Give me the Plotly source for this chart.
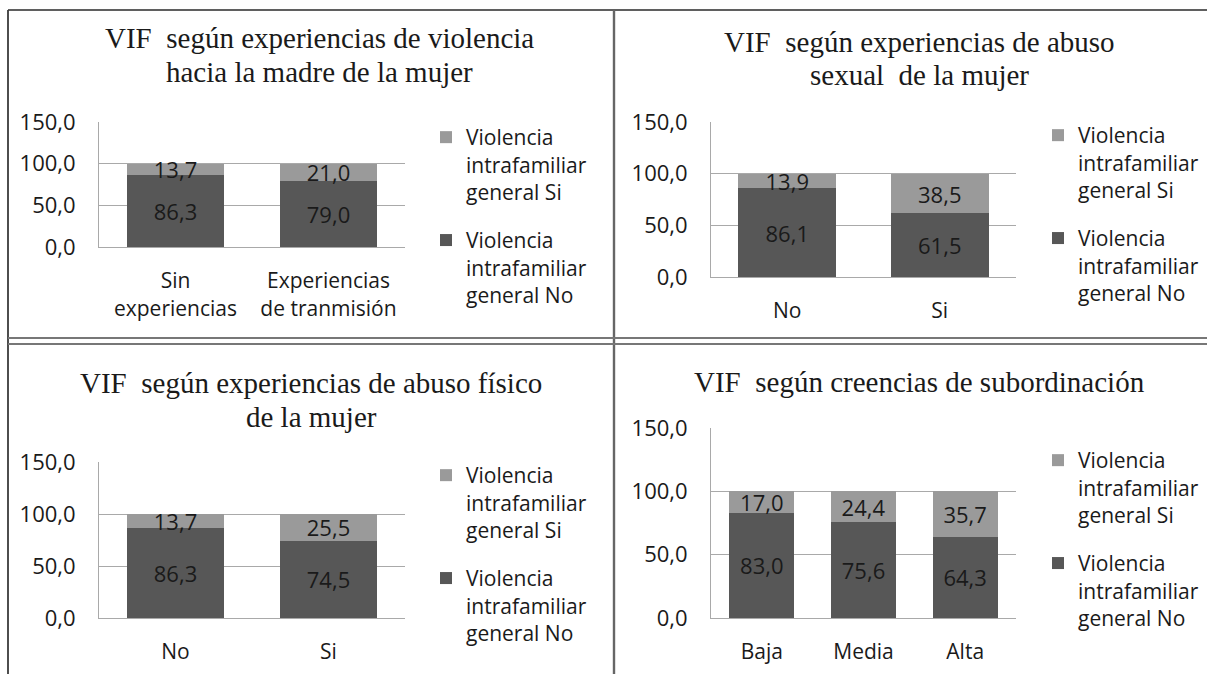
import plotly.graph_objects as go

W, H = 1207, 674

# panel data
cats_madre = ["Sin<br>experiencias", "Experiencias<br>de tranmisión"]
no_madre = [86.3, 79.0]
si_madre = [13.7, 21.0]

cats_sexual = ["No", "Si"]
no_sexual = [86.1, 61.5]
si_sexual = [13.9, 38.5]

cats_fisico = ["No", "Si"]
no_fisico = [86.3, 74.5]
si_fisico = [13.7, 25.5]

cats_creencias = ["Baja", "Media", "Alta"]
no_creencias = [83.0, 75.6, 64.3]
si_creencias = [17.0, 24.4, 35.7]

y_ticks = [0, 50, 100, 150]
name_si = "Violencia<br>intrafamiliar<br>general Si"
name_no = "Violencia<br>intrafamiliar<br>general No"

titles = [
    ["VIF  según experiencias de violencia", "hacia la madre de la mujer"],
    ["VIF  según experiencias de abuso", "sexual  de la mujer"],
    ["VIF  según experiencias de abuso físico", "de la mujer"],
    ["VIF  según creencias de subordinación"],
]

DARK = "#575757"
LIGHT = "#9a9a9a"
GRID = "#a9a9a9"
SANS = "Open Sans"
SERIF = "Liberation Serif"


def px(x):
    return x / W


def py(y):
    return 1 - y / H


# pixel boxes: (left, right, top, bottom) of each plot area
boxes = [(99, 405, 122, 247), (711, 1016, 122, 277), (99, 405, 462, 618), (711, 1016, 428, 618)]
title_pos = [(319, [38, 72]), (919, [42, 75]), (311, [383, 417]), (919, [382])]
legend_pos = [(426, 117), (1038, 115), (426, 455), (1038, 440)]

panels = [
    (cats_madre, no_madre, si_madre),
    (cats_sexual, no_sexual, si_sexual),
    (cats_fisico, no_fisico, si_fisico),
    (cats_creencias, no_creencias, si_creencias),
]

fig = go.Figure()
layout = dict(
    width=W,
    height=H,
    margin=dict(l=0, r=0, t=0, b=0, autoexpand=False),
    paper_bgcolor="white",
    plot_bgcolor="white",
    barmode="stack",
    bargap=0.36,
    separators=",.",
    font=dict(family=SANS, size=22, color="#1a1a1a"),
    annotations=[],
    shapes=[],
)

for i, (cats, no_vals, si_vals) in enumerate(panels):
    n = i + 1
    sfx = "" if n == 1 else str(n)
    leg = "legend" if n == 1 else f"legend{n}"
    for name, vals, color, grp, rank in [(name_no, no_vals, DARK, "no", 2), (name_si, si_vals, LIGHT, "si", 1)]:
        fig.add_trace(go.Bar(
            x=cats,
            y=vals,
            name=name,
            marker=dict(color=color, line=dict(width=0)),
            xaxis=f"x{sfx}",
            yaxis=f"y{sfx}",
            legend=leg,
            legendgroup=f"{grp}{n}",
            legendrank=rank,
            texttemplate="%{y:.1f}",
            textposition="inside",
            insidetextanchor="middle",
            constraintext="none",
            textangle=0,
            textfont=dict(size=22, color="#1a1a1a"),
        ))

    left, right, top, bottom = boxes[i]
    layout[f"xaxis{sfx}"] = dict(
        domain=[px(left), px(right)],
        anchor=f"y{sfx}",
        showline=True, linecolor=GRID, linewidth=1,
        showgrid=False, ticks="", ticklabelstandoff=15,
        tickfont=dict(size=21, family=SANS, color="#1a1a1a"),
        fixedrange=True,
    )
    layout[f"yaxis{sfx}"] = dict(
        domain=[py(bottom), py(top)],
        anchor=f"x{sfx}",
        range=[0, 150],
        tickvals=y_ticks,
        tickformat=".1f",
        showline=True, linecolor=GRID, linewidth=1,
        showgrid=True, gridcolor=GRID, gridwidth=1,
        zeroline=False, ticks="", ticklabelstandoff=18,
        tickfont=dict(size=22, family=SANS, color="#1a1a1a"),
        fixedrange=True,
    )
    lx, ly = legend_pos[i]
    layout[leg] = dict(
        x=px(lx), y=py(ly), xanchor="left", yanchor="top",
        traceorder="grouped", tracegroupgap=18,
        valign="top", bgcolor="rgba(0,0,0,0)",
        font=dict(size=21, family=SANS, color="#1a1a1a"),
    )

    cx, ys = title_pos[i]
    for line, ty in zip(titles[i], ys):
        layout["annotations"].append(dict(
            text=line, x=px(cx), y=py(ty), xref="paper", yref="paper",
            xanchor="center", yanchor="middle", showarrow=False,
            font=dict(family=SERIF, size=29, color="#1a1a1a"),
        ))

# frame lines around the four panels
frame = [
    (8, 10, W, 10, "#2a2a2a", 1.6),
    (8, 10, 8, H, "#3a3a3a", 1.8),
    (614, 10, 614, H, "#666666", 2.4),
    (8, 338, W, 338, "#777777", 2.2),
    (8, 344, W, 344, "#777777", 2.2),
]
for x0, y0, x1, y1, c, w in frame:
    layout["shapes"].append(dict(
        type="line", xref="paper", yref="paper",
        x0=px(x0), y0=py(y0), x1=px(x1), y1=py(y1),
        line=dict(color=c, width=w),
    ))

fig.update_layout(**layout)
fig.write_html(
    "out.html",
    config={"displayModeBar": False},
    post_script="document.body.style.margin = '0px';",
)
